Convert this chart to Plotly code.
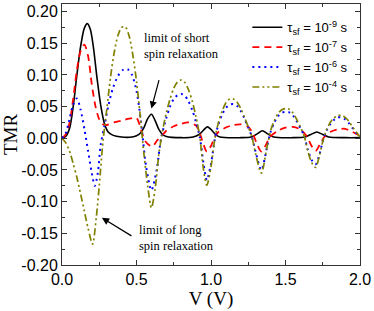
import plotly.graph_objects as go

# ---- data ----
v_black = [0, 0.025, 0.05, 0.075, 0.1, 0.125, 0.15, 0.17, 0.19, 0.21, 0.235, 0.26, 0.285, 0.31, 0.34, 0.4,
           0.47, 0.5, 0.525, 0.55, 0.575, 0.6, 0.625, 0.65, 0.675, 0.7, 0.8, 0.88, 0.92, 0.95, 0.975, 1.0,
           1.03, 1.06, 1.2, 1.27, 1.31, 1.345, 1.38, 1.42, 1.55, 1.63, 1.67, 1.71, 1.75, 1.79, 1.9, 2.0]
tmr_black = [0, 0.003, 0.015, 0.05, 0.1, 0.145, 0.174, 0.181, 0.172, 0.145, 0.095, 0.052, 0.023, 0.01, 0.005, 0.002,
             0.002, 0.004, 0.008, 0.017, 0.031, 0.038, 0.028, 0.014, 0.006, 0.003, 0.001, 0.002, 0.006, 0.013, 0.018, 0.014,
             0.006, 0.002, 0.001, 0.002, 0.007, 0.012, 0.007, 0.002, 0.001, 0.002, 0.006, 0.010, 0.006, 0.002, 0.001, 0.001]

v_red = [0, 0.025, 0.05, 0.075, 0.1, 0.125, 0.15, 0.175, 0.2, 0.225, 0.25, 0.275, 0.3, 0.35, 0.4, 0.45, 0.5,
         0.52, 0.535, 0.56, 0.605, 0.64, 0.67, 0.7, 0.75, 0.8, 0.85, 0.9, 0.925, 0.95, 0.972, 1.0, 1.025, 1.05,
         1.1, 1.15, 1.2, 1.25, 1.28, 1.31, 1.338, 1.365, 1.395, 1.45, 1.5, 1.55, 1.6, 1.64, 1.675, 1.702, 1.73,
         1.76, 1.8, 1.85, 1.9, 1.95, 2.0]
tmr_red = [0, 0.006, 0.024, 0.062, 0.108, 0.138, 0.148, 0.13, 0.085, 0.05, 0.03, 0.022, 0.021, 0.025, 0.028, 0.031, 0.032,
           0.022, 0.01, -0.005, -0.013, -0.003, 0.004, 0.012, 0.019, 0.023, 0.025, 0.02, 0.008, -0.01, -0.021, -0.012, 0.002, 0.01,
           0.017, 0.021, 0.022, 0.018, 0.008, -0.01, -0.021, -0.012, 0.002, 0.012, 0.017, 0.018, 0.014, 0.004, -0.012, -0.02, -0.01,
           0.002, 0.01, 0.014, 0.015, 0.01, 0.004]

v_blue = [0, 0.025, 0.05, 0.075, 0.1, 0.125, 0.15, 0.175, 0.2, 0.22, 0.24, 0.26, 0.285, 0.31, 0.34, 0.375, 0.41,
          0.44, 0.47, 0.5, 0.52, 0.54, 0.565, 0.6, 0.635, 0.665, 0.7, 0.725, 0.75, 0.775, 0.8, 0.825, 0.85, 0.875,
          0.9, 0.925, 0.95, 0.972, 1.0, 1.025, 1.05, 1.075, 1.1, 1.125, 1.15, 1.175, 1.2, 1.225, 1.25, 1.275, 1.3,
          1.338, 1.375, 1.4, 1.425, 1.45, 1.475, 1.5, 1.525, 1.55, 1.575, 1.6, 1.625, 1.65, 1.675, 1.702, 1.725,
          1.75, 1.775, 1.8, 1.825, 1.85, 1.875, 1.9, 1.925, 1.95, 1.975, 2.0]
tmr_blue = [0, 0.008, 0.03, 0.053, 0.063, 0.045, 0.015, -0.02, -0.055, -0.075, -0.055, -0.01, 0.02, 0.05, 0.078, 0.098, 0.108,
            0.109, 0.1, 0.075, 0.045, 0.005, -0.045, -0.082, -0.05, 0.0, 0.032, 0.05, 0.062, 0.068, 0.07, 0.067, 0.058, 0.044,
            0.025, 0.002, -0.04, -0.066, -0.04, -0.002, 0.022, 0.038, 0.048, 0.053, 0.054, 0.051, 0.043, 0.031, 0.017, 0.002, -0.022,
            -0.05, -0.015, 0.01, 0.025, 0.035, 0.04, 0.042, 0.041, 0.036, 0.027, 0.016, 0.004, -0.018, -0.034, -0.041, -0.028,
            -0.005, 0.012, 0.022, 0.029, 0.033, 0.033, 0.03, 0.024, 0.016, 0.008, 0.002]

v_olive = [0, 0.025, 0.05, 0.075, 0.1, 0.125, 0.15, 0.175, 0.205, 0.23, 0.25, 0.275, 0.3, 0.325, 0.35, 0.375, 0.4,
           0.425, 0.45, 0.475, 0.5, 0.525, 0.55, 0.575, 0.6, 0.625, 0.65, 0.675, 0.7, 0.725, 0.75, 0.775, 0.8, 0.825,
           0.85, 0.875, 0.9, 0.925, 0.95, 0.972, 1.0, 1.025, 1.05, 1.075, 1.1, 1.125, 1.15, 1.175, 1.2, 1.225, 1.25,
           1.275, 1.3, 1.338, 1.375, 1.4, 1.425, 1.45, 1.475, 1.5, 1.525, 1.55, 1.575, 1.6, 1.625, 1.65, 1.675, 1.702,
           1.725, 1.75, 1.775, 1.8, 1.825, 1.85, 1.875, 1.9, 1.925, 1.95, 1.975, 2.0]
tmr_olive = [0, -0.007, -0.02, -0.04, -0.062, -0.088, -0.115, -0.142, -0.167, -0.125, -0.075, -0.005, 0.045, 0.095, 0.135, 0.162, 0.175,
             0.176, 0.162, 0.132, 0.09, 0.035, -0.025, -0.075, -0.11, -0.08, -0.025, 0.012, 0.04, 0.062, 0.079, 0.089, 0.092, 0.088,
             0.076, 0.058, 0.033, 0.002, -0.05, -0.074, -0.045, -0.002, 0.025, 0.043, 0.056, 0.062, 0.062, 0.057, 0.047, 0.033, 0.018,
             0.002, -0.025, -0.055, -0.015, 0.012, 0.028, 0.039, 0.045, 0.047, 0.046, 0.04, 0.03, 0.018, 0.004, -0.02, -0.038, -0.046,
             -0.03, -0.005, 0.013, 0.025, 0.032, 0.036, 0.036, 0.033, 0.027, 0.018, 0.01, 0.002]

series_names = ["τ<sub>sf</sub> = 10<sup>-9</sup> s", "τ<sub>sf</sub> = 10<sup>-7</sup> s",
                "τ<sub>sf</sub> = 10<sup>-6</sup> s", "τ<sub>sf</sub> = 10<sup>-4</sup> s"]

x_tickvals = [0.0, 0.5, 1.0, 1.5, 2.0]
x_ticktext = ["0.0", "0.5", "1.0", "1.5", "2.0"]
y_tickvals = [-0.20, -0.15, -0.10, -0.05, 0.00, 0.05, 0.10, 0.15, 0.20]
y_ticktext = ["-0.20", "-0.15", "-0.10", "-0.05", "0.00", "0.05", "0.10", "0.15", "0.20"]

# ---- figure ----
fig = go.Figure()
styles = [
    dict(color="#000000", width=1.6, dash="solid"),
    dict(color="#ff0000", width=1.8, dash="7px,5px"),
    dict(color="#0000ff", width=2.0, dash="2px,4px"),
    dict(color="#808000", width=1.7, dash="7px,3px,2px,3px,2px,3px"),
]
for i, (xs, ys, name, st) in enumerate(zip([v_black, v_red, v_blue, v_olive],
                                           [tmr_black, tmr_red, tmr_blue, tmr_olive],
                                           series_names, styles)):
    fig.add_trace(go.Scatter(x=xs, y=ys, mode="lines", name=name, legendgroup=f"g{i}",
                             line=dict(shape="spline", smoothing=0.8, **st)))

axis_common = dict(showgrid=False, zeroline=False, showline=True, linecolor="#333333", linewidth=1,
                   mirror="ticks", ticks="inside", ticklen=5, tickwidth=1, tickcolor="#333333",
                   tickfont=dict(family="Liberation Sans, Arial", size=16, color="#000000"))

fig.update_layout(
    width=374, height=311,
    margin=dict(l=62, r=12, t=3, b=46),
    paper_bgcolor="white", plot_bgcolor="white",
    showlegend=True,
    legend=dict(x=0.622, y=0.968, xanchor="left", yanchor="top", bgcolor="rgba(0,0,0,0)",
                font=dict(family="Liberation Sans, Arial", size=13, color="#000000"),
                tracegroupgap=0, itemwidth=30),
    xaxis=dict(range=[0, 2.0], tickvals=x_tickvals, ticktext=x_ticktext,
               minor=dict(dtick=0.25, ticks="inside", ticklen=3, tickcolor="#333333"),
               title=dict(text="V (V)", font=dict(family="Liberation Serif, Times New Roman", size=19, color="#000"),
                          standoff=4),
               **axis_common),
    yaxis=dict(range=[-0.2, 0.212], tickvals=y_tickvals, ticktext=y_ticktext,
               minor=dict(dtick=0.025, ticks="inside", ticklen=3, tickcolor="#333333"),
               title=dict(text="TMR", font=dict(family="Liberation Serif, Times New Roman", size=19, color="#000"),
                          standoff=4),
               **axis_common),
)

ann_font = dict(family="Liberation Serif, Times New Roman", size=12.5, color="#000000")
fig.add_annotation(x=0.54, y=0.145, xref="x", yref="y", text="limit of short<br>spin relaxation",
                   showarrow=False, xanchor="left", yanchor="middle", align="left", font=ann_font)
fig.add_annotation(x=0.505, y=-0.158, xref="x", yref="y", text="limit of long<br>spin relaxation",
                   showarrow=False, xanchor="left", yanchor="middle", align="left", font=ann_font)
# arrows
fig.add_annotation(x=0.6, y=0.047, xref="x", yref="y", ax=8, ay=-30, axref="pixel", ayref="pixel",
                   text="", showarrow=True, arrowhead=2, arrowsize=1.2, arrowwidth=1.2, arrowcolor="#000")
fig.add_annotation(x=0.268, y=-0.1255, xref="x", yref="y", ax=31, ay=19, axref="pixel", ayref="pixel",
                   text="", showarrow=True, arrowhead=2, arrowsize=1.2, arrowwidth=1.2, arrowcolor="#000")

fig.write_html("out.html", config={"displayModeBar": False},
               post_script="document.body.style.margin='0';")
